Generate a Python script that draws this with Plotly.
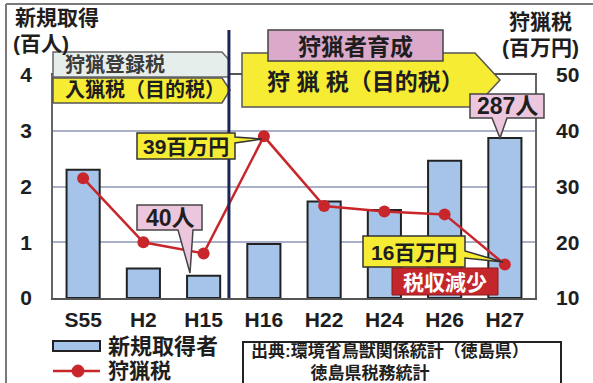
import plotly.graph_objects as go

# ---- data -------------------------------------------------------------
years = ["S55", "H2", "H15", "H16", "H22", "H24", "H26", "H27"]
new_licensees = [2.30, 0.53, 0.40, 0.97, 1.73, 1.58, 2.46, 2.87]   # 百人
hunting_tax = [31.5, 20.0, 18.0, 39.0, 26.5, 25.5, 25.0, 16.0]     # 百万円
left_ticks = [0, 1, 2, 3, 4]
right_ticks = [10, 20, 30, 40, 50]

W, H = 593, 383
L, R, T, B = 53, 535, 75, 298          # plot area in pixels

FONT = "Liberation Sans, Noto Sans CJK JP, sans-serif"
YELLOW = "#f6ec34"
PINK = "#ecc6dc"
RED = "#c8262b"
BLUE = "#a6c4ea"
INK = "#1e1e1e"


def px(x):
    return (x - L) / (R - L)


def py(y):
    return (B - y) / (B - T)


def poly(points):
    return "M " + " L ".join(f"{px(x):.5f},{py(y):.5f}" for x, y in points) + " Z"


fig = go.Figure()

fig.add_trace(go.Bar(
    x=years, y=new_licensees, name="新規取得者",
    marker=dict(color=BLUE, line=dict(color="#222222", width=2)),
    width=0.55, yaxis="y", showlegend=False,
))
fig.add_trace(go.Scatter(
    x=years, y=hunting_tax, name="狩猟税", mode="lines+markers",
    line=dict(color=RED, width=2.5),
    marker=dict(color=RED, size=12),
    yaxis="y2", cliponaxis=False, showlegend=False,
))

shapes = []
ann = []


def text(x, y, s, size, color=INK, anchor="center", align="center"):
    ann.append(dict(x=px(x), y=py(y), xref="paper", yref="paper", text=s,
                    showarrow=False, xanchor=anchor, yanchor="middle", align=align,
                    font=dict(size=size, color=color, family=FONT, weight="bold")))


def shape_path(points, fill, line="#333333", width=1.5):
    shapes.append(dict(type="path", path=poly(points), xref="paper", yref="paper",
                       fillcolor=fill, line=dict(color=line, width=width), layer="above"))


# outer frame (top and left edge)
shapes.append(dict(type="line", xref="paper", yref="paper",
                   x0=px(6), y0=py(4), x1=px(593), y1=py(4),
                   line=dict(color="#7a7a7a", width=2)))
shapes.append(dict(type="line", xref="paper", yref="paper",
                   x0=px(6), y0=py(4), x1=px(6), y1=py(383),
                   line=dict(color="#7a7a7a", width=2)))

# tax system banners (left era)
shape_path([(53, 52), (222, 52), (229, 60), (229, 77), (53, 77)], "#e6eeec", "#666666")
text(63, 65, "狩猟登録税", 20, "#3c3c3c", "left")
shape_path([(53, 78), (222, 78), (230, 90), (222, 103), (53, 103)], YELLOW, "#555555")
text(63, 90, "入猟税（目的税）", 20, INK, "left")

# era divider between H15 and H16
shapes.append(dict(type="line", xref="x", yref="paper",
                   x0=2.42, x1=2.42, y0=0, y1=py(30),
                   line=dict(color="#1c2457", width=3), layer="above"))

# tax system banners (right era)
shape_path([(242, 53), (475, 53), (500, 80), (475, 107), (242, 107)], YELLOW, "#555555")
text(365, 82, "狩 猟 税（目的税）", 23)
shape_path([(268, 30), (443, 30), (443, 61), (268, 61)], "#dba9c9", "#444444")
text(355, 47, "狩猟者育成", 23)

# call-outs
shape_path([(137, 133), (235, 133), (235, 137), (262, 139), (235, 143),
            (235, 159), (137, 159)], YELLOW, "#333333")
text(186, 146, f"{hunting_tax[3]:.0f}百万円", 21)

shape_path([(137, 205), (202, 205), (202, 230), (193, 230), (190, 273),
            (178, 230), (137, 230)], PINK, "#444444")
text(170, 218, f"{new_licensees[2] * 100:.0f}人", 23)

shape_path([(470, 94), (544, 94), (544, 118), (507, 118), (500, 138),
            (492, 118), (470, 118)], PINK, "#444444")
text(507, 106, f"{new_licensees[7] * 100:.0f}人", 23)

shape_path([(363, 236), (465, 236), (465, 251), (503, 262), (465, 258),
            (465, 267), (363, 267)], YELLOW, "#333333")
text(414, 252, f"{hunting_tax[7]:.0f}百万円", 21)

shape_path([(392, 268), (498, 268), (498, 295), (392, 295)], "#c3262b", "#8a1a1d", 1)
text(445, 282, "税収減少", 21, "#ffffff")

# axis titles
text(13, 18, "新規取得", 21, INK, "left")
text(11, 43, "(百人)", 21, INK, "left")
text(540, 22, "狩猟税", 21)
text(540, 47, "(百万円)", 21)

# legend
shape_path([(53, 341), (100, 341), (100, 351), (53, 351)], BLUE, "#222222", 2)
text(106, 346, "新規取得者", 22, INK, "left")
shapes.append(dict(type="line", xref="paper", yref="paper",
                   x0=px(53), y0=py(371), x1=px(100), y1=py(371),
                   line=dict(color=RED, width=2.5)))
shapes.append(dict(type="circle", xref="paper", yref="paper",
                   x0=px(72), y0=py(365), x1=px(84), y1=py(377),
                   fillcolor=RED, line=dict(color=RED, width=1)))
text(106, 370, "狩猟税", 21, INK, "left")

# source note (two lines, second one indented)
shapes.append(dict(type="rect", xref="paper", yref="paper",
                   x0=px(243), y0=py(342), x1=px(561), y1=py(392),
                   line=dict(color="#222222", width=2), fillcolor="rgba(0,0,0,0)"))
text(249, 362, "出典:環境省鳥獣関係統計（徳島県）<br>"
               "\u3000\u3000\u3000\u2002徳島県税務統計", 17, INK, "left", "left")

fig.update_layout(
    width=W, height=H,
    margin=dict(l=L, r=W - R, t=T, b=H - B),
    paper_bgcolor="white", plot_bgcolor="white",
    font=dict(family=FONT, size=21, color=INK, weight="bold"),
    bargap=0.45,
    xaxis=dict(type="category", range=[-0.5, 7.5], showline=True, mirror=True,
               linecolor="#555555", linewidth=1.5, showgrid=False, ticks="",
               tickfont=dict(size=21, color=INK), ticklabelstandoff=2),
    yaxis=dict(range=[0, 4], tickvals=left_ticks, showgrid=True,
               gridcolor="#aab0c8", gridwidth=1.5, zeroline=False,
               showline=True, mirror=True, linecolor="#666666", linewidth=1.5,
               ticks="", tickfont=dict(size=21, color=INK), ticklabelstandoff=15),
    yaxis2=dict(range=[10, 50], tickvals=right_ticks, overlaying="y", side="right",
                showgrid=False, zeroline=False, showline=False, ticks="",
                tickfont=dict(size=21, color=INK), ticklabelstandoff=20),
    shapes=shapes, annotations=ann, showlegend=False,
)

fig.write_html("out.html")
